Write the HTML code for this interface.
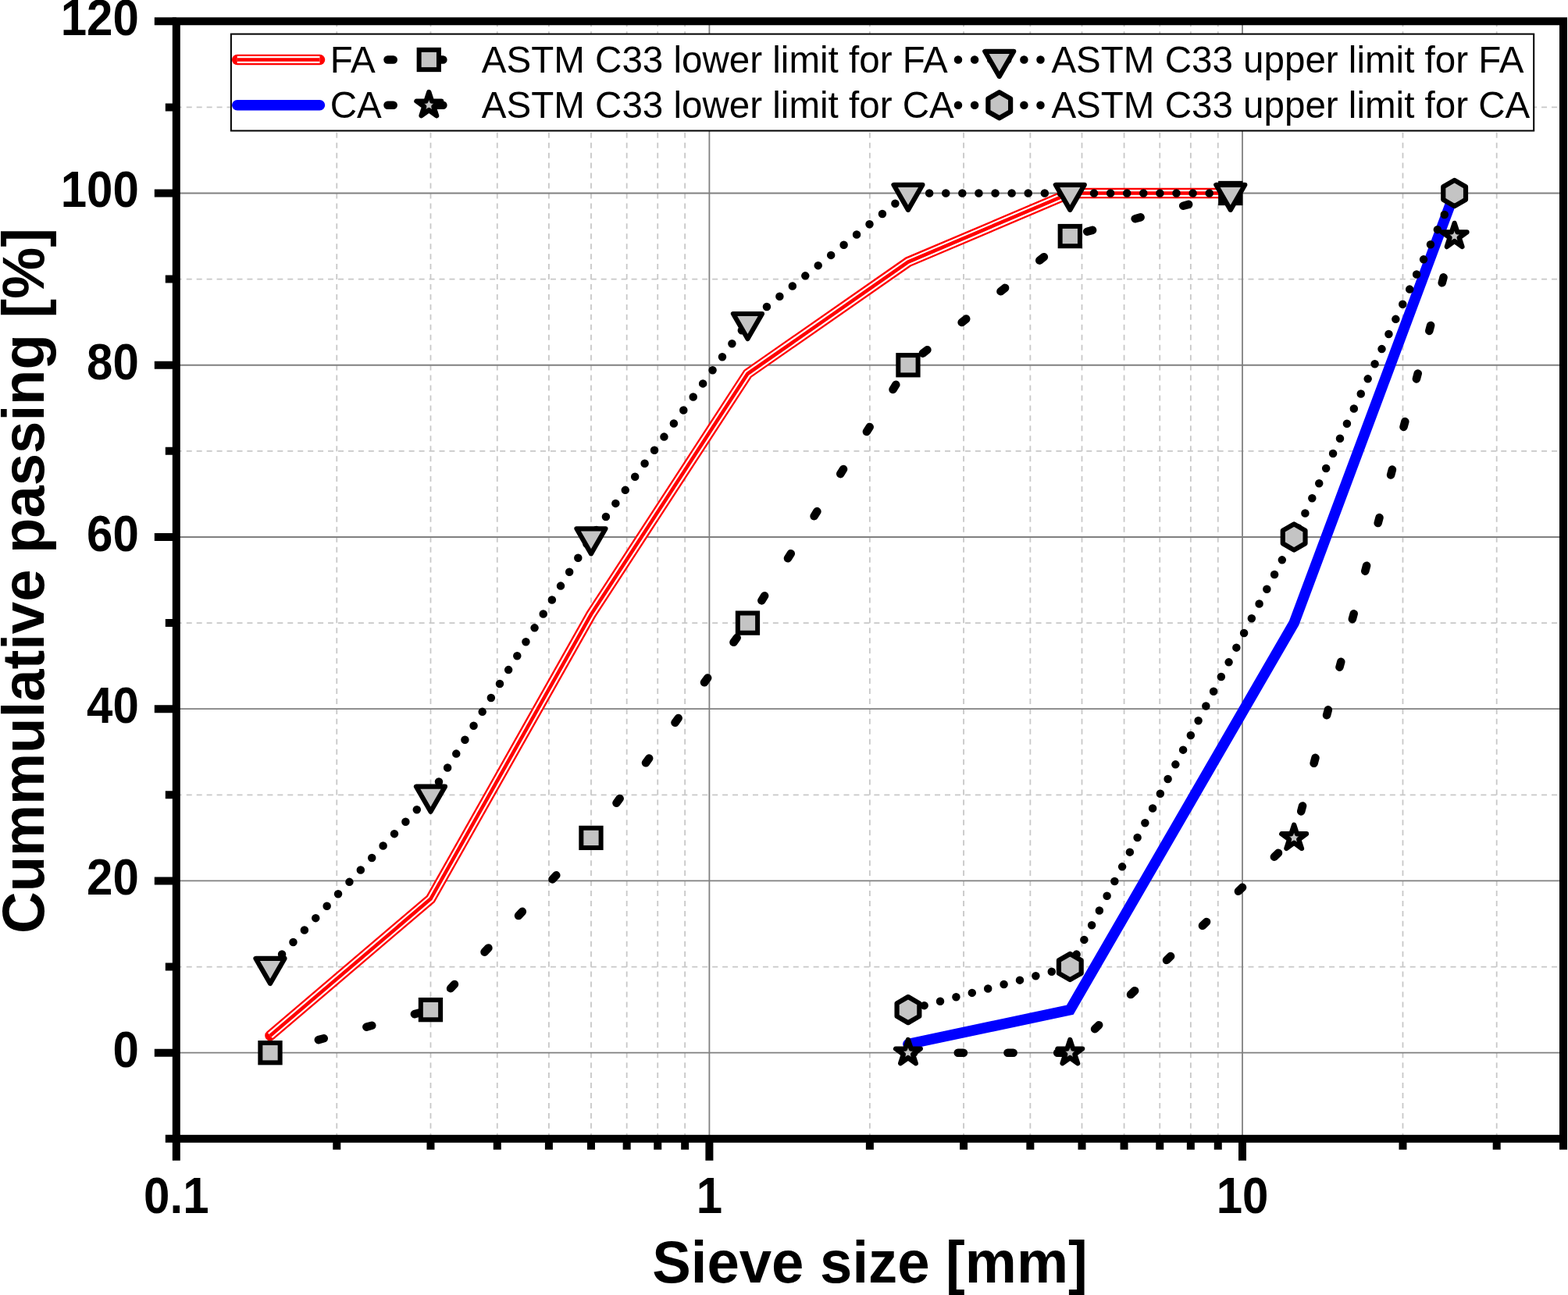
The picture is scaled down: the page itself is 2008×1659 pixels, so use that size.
<!DOCTYPE html><html><head><meta charset="utf-8"><style>html,body{margin:0;padding:0;background:#ffffff;overflow:hidden;}svg{display:block}text{font-family:"Liberation Sans",Arial,sans-serif;}</style></head><body>
<svg width="2008" height="1659" viewBox="0 0 2008 1659">
<rect x="0" y="0" width="2008" height="1659" fill="#ffffff"/>
<path d="M431.28 1458.82V27.26M551.48 1458.82V27.26M636.77 1458.82V27.26M702.92 1458.82V27.26M756.97 1458.82V27.26M802.66 1458.82V27.26M842.25 1458.82V27.26M877.17 1458.82V27.26M1113.88 1458.82V27.26M1234.08 1458.82V27.26M1319.37 1458.82V27.26M1385.52 1458.82V27.26M1439.57 1458.82V27.26M1485.26 1458.82V27.26M1524.85 1458.82V27.26M1559.77 1458.82V27.26M1796.48 1458.82V27.26M1916.68 1458.82V27.26M2001.97 1458.82V27.26M225.80 1238.58H2001.97M225.80 1018.34H2001.97M225.80 798.10H2001.97M225.80 577.86H2001.97M225.80 357.62H2001.97M225.80 137.38H2001.97" stroke="#c8c8c8" stroke-width="1.8" stroke-dasharray="7 5.95" fill="none"/>
<path d="M908.40 27.26V1458.82M1591.00 27.26V1458.82M225.80 1348.70H2001.97M225.80 1128.46H2001.97M225.80 908.22H2001.97M225.80 687.98H2001.97M225.80 467.74H2001.97M225.80 247.50H2001.97" stroke="#808080" stroke-width="1.8" fill="none"/>
<polyline points="346.00,1326.68 551.48,1151.59 756.97,787.09 957.47,478.75 1162.95,335.60 1370.31,247.50 1575.79,247.50" fill="none" stroke="#ff0000" stroke-width="13.6" stroke-linecap="round" stroke-linejoin="miter"/><polyline points="346.00,1326.68 551.48,1151.59 756.97,787.09 957.47,478.75 1162.95,335.60 1370.31,247.50 1575.79,247.50" fill="none" stroke="#ffffff" stroke-width="9.0" stroke-linecap="butt" stroke-linejoin="miter"/><polyline points="346.00,1326.68 551.48,1151.59 756.97,787.09 957.47,478.75 1162.95,335.60 1370.31,247.50 1575.79,247.50" fill="none" stroke="#ff0000" stroke-width="4.6" stroke-linecap="butt" stroke-linejoin="miter"/>
<g stroke="#000" stroke-width="10.5" stroke-linecap="round" stroke-dasharray="7.2 56.50"><line x1="346.00" y1="1348.70" x2="551.48" y2="1293.64" stroke-dashoffset="63.40"/><line x1="551.48" y1="1293.64" x2="756.97" y2="1073.40" stroke-dashoffset="26.20"/><line x1="756.97" y1="1073.40" x2="957.47" y2="798.10" stroke-dashoffset="8.50"/><line x1="957.47" y1="798.10" x2="1162.95" y2="467.74" stroke-dashoffset="29.90"/><line x1="1162.95" y1="467.74" x2="1370.31" y2="302.56" stroke-dashoffset="39.60"/><line x1="1370.31" y1="302.56" x2="1575.79" y2="247.50" stroke-dashoffset="41.10"/></g>
<rect x="333.35" y="1336.05" width="25.3" height="25.3" fill="#c4c4c4" stroke="#000" stroke-width="6.0"/><rect x="538.83" y="1280.99" width="25.3" height="25.3" fill="#c4c4c4" stroke="#000" stroke-width="6.0"/><rect x="744.32" y="1060.75" width="25.3" height="25.3" fill="#c4c4c4" stroke="#000" stroke-width="6.0"/><rect x="944.82" y="785.45" width="25.3" height="25.3" fill="#c4c4c4" stroke="#000" stroke-width="6.0"/><rect x="1150.30" y="455.09" width="25.3" height="25.3" fill="#c4c4c4" stroke="#000" stroke-width="6.0"/><rect x="1357.66" y="289.91" width="25.3" height="25.3" fill="#c4c4c4" stroke="#000" stroke-width="6.0"/><rect x="1563.14" y="234.85" width="25.3" height="25.3" fill="#c4c4c4" stroke="#000" stroke-width="6.0"/>
<g stroke="#000" stroke-width="10.5" stroke-linecap="round" stroke-dasharray="0 21.1"><line x1="346.00" y1="1238.58" x2="551.48" y2="1018.34" stroke-dashoffset="20.10"/><line x1="551.48" y1="1018.34" x2="756.97" y2="687.98" stroke-dashoffset="1.20"/><line x1="756.97" y1="687.98" x2="957.47" y2="412.68" stroke-dashoffset="10.00"/><line x1="957.47" y1="412.68" x2="1162.95" y2="247.50" stroke-dashoffset="10.80"/><line x1="1162.95" y1="247.50" x2="1370.31" y2="247.50" stroke-dashoffset="15.00"/><line x1="1370.31" y1="247.50" x2="1575.79" y2="247.50" stroke-dashoffset="11.50"/></g>
<polygon points="327.50,1227.90 364.50,1227.90 346.00,1259.94" fill="#c4c4c4" stroke="#000" stroke-width="6.2" stroke-linejoin="round"/><polygon points="532.98,1007.66 569.98,1007.66 551.48,1039.70" fill="#c4c4c4" stroke="#000" stroke-width="6.2" stroke-linejoin="round"/><polygon points="738.47,677.30 775.47,677.30 756.97,709.34" fill="#c4c4c4" stroke="#000" stroke-width="6.2" stroke-linejoin="round"/><polygon points="938.97,402.00 975.97,402.00 957.47,434.04" fill="#c4c4c4" stroke="#000" stroke-width="6.2" stroke-linejoin="round"/><polygon points="1144.45,236.82 1181.45,236.82 1162.95,268.86" fill="#c4c4c4" stroke="#000" stroke-width="6.2" stroke-linejoin="round"/><polygon points="1351.81,236.82 1388.81,236.82 1370.31,268.86" fill="#c4c4c4" stroke="#000" stroke-width="6.2" stroke-linejoin="round"/><polygon points="1557.29,236.82 1594.29,236.82 1575.79,268.86" fill="#c4c4c4" stroke="#000" stroke-width="6.2" stroke-linejoin="round"/>
<polyline points="1162.95,1337.69 1370.31,1293.64 1657.15,798.10 1862.63,247.50" fill="none" stroke="#0000ff" stroke-width="13.6" stroke-linecap="round" stroke-linejoin="miter"/>
<g stroke="#000" stroke-width="10.5" stroke-linecap="round" stroke-dasharray="7.2 56.50"><line x1="1162.95" y1="1348.70" x2="1370.31" y2="1348.70" stroke-dashoffset="63.60"/><line x1="1370.31" y1="1348.70" x2="1657.15" y2="1073.40" stroke-dashoffset="19.70"/><line x1="1657.15" y1="1073.40" x2="1862.63" y2="302.56" stroke-dashoffset="28.50"/></g>
<polygon points="1162.95,1332.00 1166.70,1343.54 1178.83,1343.54 1169.02,1350.67 1172.77,1362.21 1162.95,1355.08 1153.13,1362.21 1156.88,1350.67 1147.07,1343.54 1159.20,1343.54" fill="#c4c4c4" stroke="#000" stroke-width="6.3" stroke-linejoin="round"/><polygon points="1370.31,1332.00 1374.06,1343.54 1386.19,1343.54 1376.38,1350.67 1380.13,1362.21 1370.31,1355.08 1360.50,1362.21 1364.24,1350.67 1354.43,1343.54 1366.56,1343.54" fill="#c4c4c4" stroke="#000" stroke-width="6.3" stroke-linejoin="round"/><polygon points="1657.15,1056.70 1660.90,1068.24 1673.03,1068.24 1663.22,1075.37 1666.97,1086.91 1657.15,1079.78 1647.33,1086.91 1651.08,1075.37 1641.27,1068.24 1653.40,1068.24" fill="#c4c4c4" stroke="#000" stroke-width="6.3" stroke-linejoin="round"/><polygon points="1862.63,285.86 1866.38,297.40 1878.52,297.40 1868.70,304.53 1872.45,316.07 1862.63,308.94 1852.82,316.07 1856.57,304.53 1846.75,297.40 1858.88,297.40" fill="#c4c4c4" stroke="#000" stroke-width="6.3" stroke-linejoin="round"/>
<g stroke="#000" stroke-width="10.5" stroke-linecap="round" stroke-dasharray="0 21.1"><line x1="1162.95" y1="1293.64" x2="1370.31" y2="1238.58" stroke-dashoffset="20.80"/><line x1="1370.31" y1="1238.58" x2="1657.15" y2="687.98" stroke-dashoffset="3.10"/><line x1="1657.15" y1="687.98" x2="1862.63" y2="247.50" stroke-dashoffset="8.50"/></g>
<polygon points="1162.95,1277.04 1177.33,1285.34 1177.33,1301.94 1162.95,1310.24 1148.57,1301.94 1148.57,1285.34" fill="#c4c4c4" stroke="#000" stroke-width="6.2" stroke-linejoin="round"/><polygon points="1370.31,1221.98 1384.69,1230.28 1384.69,1246.88 1370.31,1255.18 1355.94,1246.88 1355.94,1230.28" fill="#c4c4c4" stroke="#000" stroke-width="6.2" stroke-linejoin="round"/><polygon points="1657.15,671.38 1671.53,679.68 1671.53,696.28 1657.15,704.58 1642.77,696.28 1642.77,679.68" fill="#c4c4c4" stroke="#000" stroke-width="6.2" stroke-linejoin="round"/><polygon points="1862.63,230.90 1877.01,239.20 1877.01,255.80 1862.63,264.10 1848.26,255.80 1848.26,239.20" fill="#c4c4c4" stroke="#000" stroke-width="6.2" stroke-linejoin="round"/>
<rect x="295.9" y="43.6" width="1668.3000000000002" height="123.9" fill="#ffffff" stroke="#000" stroke-width="2"/>
<polyline points="303.8,76.5 409.4,76.5" fill="none" stroke="#ff0000" stroke-width="13.6" stroke-linecap="round" stroke-linejoin="miter"/><polyline points="303.8,76.5 409.4,76.5" fill="none" stroke="#ffffff" stroke-width="9.0" stroke-linecap="butt" stroke-linejoin="miter"/><polyline points="303.8,76.5 409.4,76.5" fill="none" stroke="#ff0000" stroke-width="4.6" stroke-linecap="butt" stroke-linejoin="miter"/>
<line x1="303.8" y1="134.7" x2="409.4" y2="134.7" stroke="#0000ff" stroke-width="13.6" stroke-linecap="round"/>
<line x1="496.5" y1="76.5" x2="602" y2="76.5" stroke="#000" stroke-width="10.5" stroke-linecap="round" stroke-dasharray="7.2 56.50"/>
<rect x="536.65" y="63.85" width="25.3" height="25.3" fill="#c4c4c4" stroke="#000" stroke-width="6.0"/>
<line x1="496.5" y1="134.7" x2="602" y2="134.7" stroke="#000" stroke-width="10.5" stroke-linecap="round" stroke-dasharray="7.2 56.50"/>
<polygon points="549.30,118.00 553.05,129.54 565.18,129.54 555.37,136.67 559.12,148.21 549.30,141.08 539.48,148.21 543.23,136.67 533.42,129.54 545.55,129.54" fill="#c4c4c4" stroke="#000" stroke-width="6.3" stroke-linejoin="round"/>
<line x1="1227" y1="76.5" x2="1333" y2="76.5" stroke="#000" stroke-width="10.5" stroke-linecap="round" stroke-dasharray="0 21.1"/>
<polygon points="1261.25,65.82 1298.25,65.82 1279.75,97.86" fill="#c4c4c4" stroke="#000" stroke-width="6.2" stroke-linejoin="round"/>
<line x1="1227" y1="134.7" x2="1333" y2="134.7" stroke="#000" stroke-width="10.5" stroke-linecap="round" stroke-dasharray="0 21.1"/>
<polygon points="1279.75,118.10 1294.13,126.40 1294.13,143.00 1279.75,151.30 1265.37,143.00 1265.37,126.40" fill="#c4c4c4" stroke="#000" stroke-width="6.2" stroke-linejoin="round"/>
<g font-size="47.55" fill="#000">
<text transform="translate(422.7,92.8) scale(1,1.02)">FA</text><text transform="translate(422.7,150.8) scale(1,1.02)">CA</text>
<text transform="translate(616.8,92.8) scale(1,1.02)">ASTM C33 lower limit for FA</text><text transform="translate(616.8,150.8) scale(1,1.02)">ASTM C33 lower limit for CA</text>
<text transform="translate(1346.4,92.8) scale(1,1.02)">ASTM C33 upper limit for FA</text><text transform="translate(1346.4,150.8) scale(1,1.02)">ASTM C33 upper limit for CA</text>
</g>
<path d="M211.80 1458.82H225.80M197.80 1348.70H225.80M211.80 1238.58H225.80M197.80 1128.46H225.80M211.80 1018.34H225.80M197.80 908.22H225.80M211.80 798.10H225.80M197.80 687.98H225.80M211.80 577.86H225.80M197.80 467.74H225.80M211.80 357.62H225.80M197.80 247.50H225.80M211.80 137.38H225.80M197.80 27.26H225.80M225.80 1458.82V1486.82M431.28 1458.82V1472.82M551.48 1458.82V1472.82M636.77 1458.82V1472.82M702.92 1458.82V1472.82M756.97 1458.82V1472.82M802.66 1458.82V1472.82M842.25 1458.82V1472.82M877.17 1458.82V1472.82M908.40 1458.82V1486.82M1113.88 1458.82V1472.82M1234.08 1458.82V1472.82M1319.37 1458.82V1472.82M1385.52 1458.82V1472.82M1439.57 1458.82V1472.82M1485.26 1458.82V1472.82M1524.85 1458.82V1472.82M1559.77 1458.82V1472.82M1591.00 1458.82V1486.82M1796.48 1458.82V1472.82M1916.68 1458.82V1472.82M2001.97 1458.82V1472.82" stroke="#000" stroke-width="10" fill="none"/>
<rect x="225.80" y="27.26" width="1776.17" height="1431.56" fill="none" stroke="#000" stroke-width="10"/>
<g font-size="60" font-weight="bold" fill="#000">
<text transform="translate(177.8,1366.50) scale(1,1.07)" text-anchor="end">0</text>
<text transform="translate(177.8,1146.26) scale(1,1.07)" text-anchor="end">20</text>
<text transform="translate(177.8,926.02) scale(1,1.07)" text-anchor="end">40</text>
<text transform="translate(177.8,705.78) scale(1,1.07)" text-anchor="end">60</text>
<text transform="translate(177.8,485.54) scale(1,1.07)" text-anchor="end">80</text>
<text transform="translate(177.8,265.30) scale(1,1.07)" text-anchor="end">100</text>
<text transform="translate(177.8,45.06) scale(1,1.07)" text-anchor="end">120</text>
<text transform="translate(225.80,1553.8) scale(1,1.07)" text-anchor="middle">0.1</text>
<text transform="translate(908.40,1553.8) scale(1,1.07)" text-anchor="middle">1</text>
<text transform="translate(1591.00,1553.8) scale(1,1.07)" text-anchor="middle">10</text>
</g>
<text transform="translate(835.3,1643.2) scale(1,1.01)" font-size="74.3" font-weight="bold">Sieve size [mm]</text>
<text transform="translate(55.5,1196) rotate(-90) scale(1,1.01)" font-size="74.3" font-weight="bold">Cummulative passing [%]</text>
</svg></body></html>
